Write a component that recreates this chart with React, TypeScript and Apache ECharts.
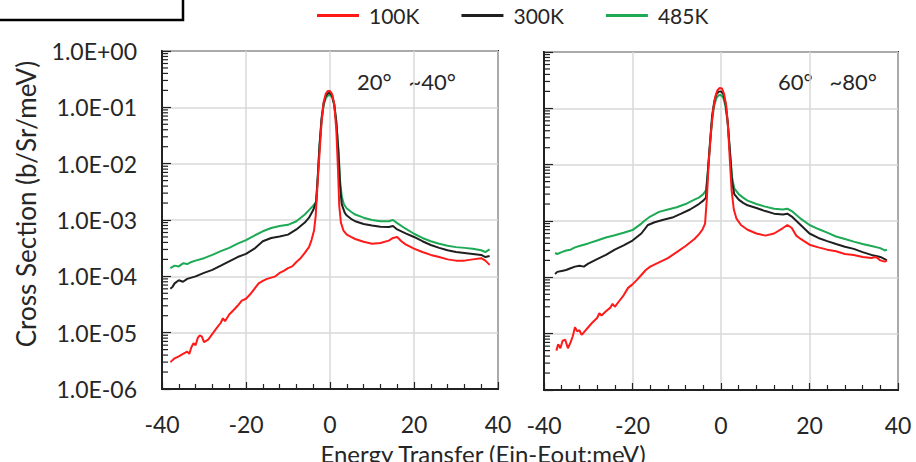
import React, { useEffect, useRef } from "react";
import * as echarts from "echarts";

// ---------- data ----------
const seriesNames = ["100K", "300K", "485K"];
const seriesColors = ["#ff1a1a", "#1f1f1f", "#1daa55"];
const panelLabels = ["20°   ~40°", "60°   ~80°"];
const xMin = -40;
const xMax = 40;
const yMin = 1e-6;
const yMax = 1;
const yMinorTickValues = [
  2e-6, 3e-6, 4e-6, 5e-6, 6e-6, 7e-6, 8e-6, 9e-6,
  2e-5, 3e-5, 4e-5, 5e-5, 6e-5, 7e-5, 8e-5, 9e-5,
  2e-4, 3e-4, 4e-4, 5e-4, 6e-4, 7e-4, 8e-4, 9e-4,
  2e-3, 3e-3, 4e-3, 5e-3, 6e-3, 7e-3, 8e-3, 9e-3,
  2e-2, 3e-2, 4e-2, 5e-2, 6e-2, 7e-2, 8e-2, 9e-2,
  0.2, 0.3, 0.4, 0.5, 0.6, 0.7, 0.8, 0.9,
];

// Panel A (20°~40°)
const a100: [number, number][] = [
  [-38, 3.0e-6], [-37, 3.5e-6], [-36, 3.8e-6], [-35, 4.2e-6], [-34, 4.6e-6], [-33.5, 4.2e-6],
  [-33, 5.5e-6], [-32.5, 6.5e-6], [-32, 6.0e-6], [-31.5, 8e-6], [-31, 9e-6], [-30.5, 8.5e-6],
  [-30, 6.8e-6], [-29, 7.5e-6], [-28, 9.5e-6], [-27, 1.2e-5], [-26, 1.5e-5], [-25.5, 1.8e-5],
  [-25, 1.6e-5], [-24, 2.1e-5], [-23, 2.5e-5], [-22, 3e-5], [-21, 3.7e-5], [-20, 4.0e-5],
  [-19, 4.8e-5], [-18, 6e-5], [-17, 7.5e-5], [-16, 8.3e-5], [-15, 9e-5], [-14, 9.5e-5],
  [-13, 1.0e-4], [-12, 1.15e-4], [-11, 1.25e-4], [-10, 1.4e-4], [-9, 1.5e-4], [-8, 1.8e-4],
  [-7, 2.1e-4], [-6, 2.6e-4], [-5, 3.3e-4], [-4.4, 4.4e-4], [-3.8, 6.5e-4], [-3.4, 1.2e-3],
  [-3, 4e-3], [-2.5, 1.5e-2], [-2, 5.5e-2], [-1.5, 1.25e-1], [-1, 1.75e-1], [-0.5, 1.95e-1],
  [0, 1.95e-1], [0.5, 1.72e-1], [1, 1.15e-1], [1.5, 4e-2], [1.9, 8e-3], [2.2, 1.8e-3],
  [2.6, 9e-4], [3.2, 6.5e-4], [4, 5.5e-4], [5, 5e-4], [6, 4.6e-4], [8, 4.1e-4], [10, 3.8e-4],
  [12, 3.9e-4], [14, 4.3e-4], [15, 4.8e-4], [16, 5e-4], [17, 4.2e-4], [18, 3.7e-4], [20, 3.1e-4],
  [22, 2.7e-4], [24, 2.4e-4], [26, 2.2e-4], [28, 2.0e-4], [30, 1.9e-4], [32, 1.9e-4],
  [34, 2.0e-4], [36, 2.1e-4], [37, 1.9e-4], [38, 1.6e-4],
];
const a300: [number, number][] = [
  [-38, 6e-5], [-37.5, 6.5e-5], [-37, 7.5e-5], [-36, 8.5e-5], [-35, 8e-5], [-34, 9e-5],
  [-33, 9.5e-5], [-32, 1.0e-4], [-30, 1.15e-4], [-28, 1.3e-4], [-26, 1.55e-4], [-24, 1.85e-4],
  [-22, 2.2e-4], [-20, 2.5e-4], [-18, 3.1e-4], [-16, 4.2e-4], [-14, 4.8e-4], [-12, 5.1e-4],
  [-10, 5.5e-4], [-8, 6.8e-4], [-6, 9e-4], [-5, 1.1e-3], [-4, 1.5e-3], [-3.3, 2.1e-3],
  [-2.9, 6e-3], [-2.5, 2.1e-2], [-2, 6.5e-2], [-1.5, 1.2e-1], [-1, 1.6e-1], [-0.5, 1.78e-1],
  [0, 1.8e-1], [0.5, 1.62e-1], [1, 1.15e-1], [1.5, 5.5e-2], [2, 1.6e-2], [2.4, 4e-3],
  [2.8, 1.9e-3], [3.5, 1.35e-3], [4, 1.2e-3], [5, 1.05e-3], [6, 9.5e-4], [8, 8.5e-4],
  [10, 8e-4], [12, 7.6e-4], [14, 7.5e-4], [15, 7.8e-4], [16, 6.8e-4], [18, 5.8e-4], [20, 5e-4],
  [22, 4.2e-4], [24, 3.6e-4], [26, 3.2e-4], [28, 2.9e-4], [30, 2.7e-4], [32, 2.6e-4],
  [34, 2.5e-4], [36, 2.4e-4], [37, 2.2e-4], [38, 2.3e-4],
];
const a485: [number, number][] = [
  [-38, 1.4e-4], [-37, 1.55e-4], [-36, 1.5e-4], [-35, 1.7e-4], [-34, 1.65e-4], [-33, 1.8e-4],
  [-32, 1.9e-4], [-30, 2.1e-4], [-28, 2.4e-4], [-26, 2.8e-4], [-24, 3.2e-4], [-22, 3.8e-4],
  [-20, 4.4e-4], [-18, 5.3e-4], [-16, 6.3e-4], [-14, 7.2e-4], [-12, 7.8e-4], [-10, 8.2e-4],
  [-8, 9.5e-4], [-6, 1.25e-3], [-5, 1.5e-3], [-4, 1.8e-3], [-3.3, 2.1e-3], [-2.9, 6e-3],
  [-2.5, 2e-2], [-2, 6e-2], [-1.5, 1.1e-1], [-1, 1.45e-1], [-0.5, 1.62e-1], [0, 1.65e-1],
  [0.5, 1.5e-1], [1, 1.1e-1], [1.5, 5.5e-2], [2, 1.8e-2], [2.4, 5e-3], [2.8, 2.6e-3],
  [3.3, 1.9e-3], [4, 1.6e-3], [5, 1.4e-3], [6, 1.25e-3], [8, 1.1e-3], [10, 1.0e-3],
  [12, 9.5e-4], [14, 9.5e-4], [15, 1.0e-3], [16, 8.8e-4], [18, 7e-4], [20, 5.7e-4],
  [22, 4.8e-4], [24, 4.2e-4], [26, 3.8e-4], [28, 3.5e-4], [30, 3.3e-4], [32, 3.2e-4],
  [34, 3.1e-4], [36, 2.9e-4], [37, 2.7e-4], [38, 3.0e-4],
];

// Panel B (60°~80°)
const b100: [number, number][] = [
  [-37.2, 5.0e-6], [-36.8, 6.5e-6], [-36.3, 5.5e-6], [-35.8, 7.5e-6], [-35.2, 7.8e-6],
  [-34.6, 5.5e-6], [-34, 7e-6], [-33.5, 9e-6], [-33, 1.3e-5], [-32.5, 1.1e-5], [-32, 1.15e-5],
  [-31.5, 9.5e-6], [-31, 1.05e-5], [-30, 1.3e-5], [-29, 1.6e-5], [-28, 1.9e-5], [-27.5, 2.3e-5],
  [-27, 2.1e-5], [-26, 2.5e-5], [-25, 2.9e-5], [-24.5, 3.4e-5], [-24, 3.0e-5], [-23, 3.8e-5],
  [-22, 4.8e-5], [-21, 6.5e-5], [-20, 7.5e-5], [-19, 9e-5], [-18, 1.1e-4], [-17, 1.35e-4],
  [-16, 1.55e-4], [-14, 1.85e-4], [-12, 2.2e-4], [-10, 2.8e-4], [-8, 3.6e-4], [-6, 4.8e-4],
  [-5, 5.8e-4], [-4.2, 7e-4], [-3.6, 9e-4], [-3.2, 2.5e-3], [-2.8, 1e-2], [-2.3, 3.5e-2],
  [-1.8, 9e-2], [-1.3, 1.6e-1], [-0.8, 2.1e-1], [-0.3, 2.3e-1], [0.2, 2.25e-1], [0.7, 1.8e-1],
  [1.2, 1.1e-1], [1.6, 4.5e-2], [2, 1.2e-2], [2.4, 3.5e-3], [2.9, 1.6e-3], [3.5, 1.1e-3],
  [4.5, 8.5e-4], [6, 7e-4], [8, 6e-4], [10, 5.5e-4], [12, 6e-4], [14, 7.5e-4], [15, 8.5e-4],
  [16, 7.5e-4], [17, 5.5e-4], [18, 4.8e-4], [20, 3.8e-4], [22, 3.4e-4], [24, 3.1e-4],
  [26, 2.9e-4], [28, 2.6e-4], [30, 2.5e-4], [32, 2.3e-4], [34, 2.2e-4], [35, 2.3e-4],
  [36, 2.0e-4], [37, 1.9e-4], [37.5, 2.0e-4],
];
const b300: [number, number][] = [
  [-37.5, 1.15e-4], [-37, 1.25e-4], [-36, 1.3e-4], [-35, 1.35e-4], [-34, 1.45e-4], [-33, 1.55e-4],
  [-32, 1.6e-4], [-31, 1.55e-4], [-30, 1.75e-4], [-28, 2.1e-4], [-26, 2.5e-4], [-24, 3.1e-4],
  [-22, 3.7e-4], [-20, 4.5e-4], [-18, 6e-4], [-16.5, 8.5e-4], [-15, 9.5e-4], [-13, 1.05e-3],
  [-11, 1.15e-3], [-9, 1.35e-3], [-7, 1.6e-3], [-5, 2.0e-3], [-4, 2.3e-3], [-3.4, 2.6e-3],
  [-3, 7e-3], [-2.5, 2.4e-2], [-2, 7.5e-2], [-1.5, 1.35e-1], [-1, 1.8e-1], [-0.5, 1.98e-1],
  [0, 2.0e-1], [0.5, 1.8e-1], [1, 1.25e-1], [1.5, 6e-2], [2, 1.8e-2], [2.5, 5e-3], [3, 3.0e-3],
  [4, 2.4e-3], [5, 2.1e-3], [6, 1.9e-3], [8, 1.7e-3], [10, 1.5e-3], [12, 1.35e-3], [14, 1.3e-3],
  [15, 1.35e-3], [16, 1.2e-3], [18, 8.5e-4], [20, 6e-4], [22, 5e-4], [24, 4.4e-4], [26, 3.9e-4],
  [28, 3.5e-4], [30, 3.2e-4], [32, 2.8e-4], [34, 2.5e-4], [36, 2.3e-4], [37, 2.1e-4], [37.5, 2.0e-4],
];
const b485: [number, number][] = [
  [-37.5, 2.7e-4], [-37, 2.6e-4], [-36, 2.8e-4], [-35, 3.0e-4], [-34, 3.1e-4], [-33, 3.4e-4],
  [-32, 3.6e-4], [-30, 4.0e-4], [-28, 4.5e-4], [-26, 5.1e-4], [-24, 5.6e-4], [-22, 6.2e-4],
  [-20, 6.9e-4], [-18, 9e-4], [-17, 1.05e-3], [-16, 1.2e-3], [-14, 1.45e-3], [-12, 1.6e-3],
  [-10, 1.75e-3], [-8, 2.0e-3], [-6, 2.4e-3], [-5, 2.6e-3], [-4, 3.0e-3], [-3.4, 3.5e-3],
  [-3, 7e-3], [-2.5, 2.2e-2], [-2, 6.5e-2], [-1.5, 1.15e-1], [-1, 1.55e-1], [-0.5, 1.7e-1],
  [0, 1.72e-1], [0.5, 1.55e-1], [1, 1.1e-1], [1.5, 5.5e-2], [2, 1.8e-2], [2.5, 6e-3], [3, 3.8e-3],
  [4, 3.0e-3], [5, 2.6e-3], [6, 2.3e-3], [8, 2.0e-3], [10, 1.8e-3], [12, 1.65e-3], [14, 1.6e-3],
  [15, 1.65e-3], [16, 1.5e-3], [18, 1.1e-3], [20, 8.5e-4], [22, 7.2e-4], [24, 6.2e-4],
  [26, 5.3e-4], [28, 4.8e-4], [30, 4.3e-4], [32, 3.9e-4], [34, 3.6e-4], [36, 3.3e-4],
  [37, 3.0e-4], [37.5, 3.1e-4],
];

const panelData = [
  [a100, a300, a485],
  [b100, b300, b485],
];

const FONT = "Lato, 'Open Sans', sans-serif";
const TEXT = "#262626";

function fmtLog(v: number): string {
  const e = Math.round(Math.log10(v));
  return `1.0E${e < 0 ? "-" : "+"}${String(Math.abs(e)).padStart(2, "0")}`;
}

export default function App() {
  const ref = useRef<HTMLDivElement>(null);
  useEffect(() => {
    document.body.style.margin = "0";
    const chart = echarts.init(ref.current!, null, { renderer: "svg" });

    const grids = [
      { left: 162, top: 51, width: 336, height: 338 },
      { left: 544, top: 52, width: 354, height: 338 },
    ];

    const xAxes = grids.map((_, i) => ({
      type: "value",
      gridIndex: i,
      min: xMin,
      max: xMax,
      interval: 20,
      axisLine: { show: true, onZero: false, lineStyle: { color: "#222", width: 2 } },
      axisTick: { show: true, inside: true, length: 7, lineStyle: { color: "#222", width: 1.2 } },
      minorTick: { show: true, splitNumber: 5, length: 5, lineStyle: { color: "#222", width: 1.2 } },
      splitLine: { show: true, lineStyle: { color: "#d9d9d9", width: 1.5 } },
      axisLabel: { show: true, margin: 22, fontSize: 23, lineHeight: 26, color: TEXT, fontFamily: FONT },
    }));

    const yAxes = grids.map((_, i) => ({
      type: "log",
      logBase: 10,
      gridIndex: i,
      min: yMin,
      max: yMax,
      splitNumber: 6,
      axisLine: { show: true, onZero: false, lineStyle: { color: "#222", width: 2 } },
      axisTick: { show: true, inside: true, length: 9, lineStyle: { color: "#222", width: 1.2 } },
      splitLine: { show: true, lineStyle: { color: "#d9d9d9", width: 1.5 } },
      axisLabel: {
        show: i === 0,
        margin: 25,
        fontSize: 23,
        color: TEXT,
        fontFamily: FONT,
        formatter: fmtLog,
      },
    }));

    const series: any[] = [];
    panelData.forEach((panel, pi) => {
      panel.forEach((pts, si) => {
        series.push({
          type: "line",
          name: seriesNames[si],
          xAxisIndex: pi,
          yAxisIndex: pi,
          data: pts,
          showSymbol: false,
          symbol: "none",
          smooth: false,
          lineStyle: { color: seriesColors[si], width: 2 },
          itemStyle: { color: seriesColors[si] },
          z: 3 + (2 - si),
        });
      });
      series.push({
        type: "custom",
        name: "minorTicks" + pi,
        xAxisIndex: pi,
        yAxisIndex: pi,
        data: yMinorTickValues.map((v) => [xMin, v]),
        silent: true,
        z: 10,
        renderItem: (params: any, api: any) => {
          const p = api.coord([api.value(0), api.value(1)]);
          return {
            type: "line",
            shape: { x1: p[0], y1: p[1], x2: p[0] + 6, y2: p[1] },
            style: { stroke: "#222", lineWidth: 1.2 },
          };
        },
      });
    });

    chart.setOption({
      animation: false,
      backgroundColor: "#fff",
      textStyle: { fontFamily: FONT },
      legend: {
        data: seriesNames,
        left: 317,
        top: 5,
        padding: 0,
        icon: "rect",
        itemWidth: 42,
        itemHeight: 3,
        itemGap: 42,
        textStyle: { fontSize: 21, color: TEXT, fontFamily: FONT, padding: [0, 0, 0, 5] },
      },
      grid: grids.map((g) => ({
        ...g,
        show: true,
        borderColor: "#222",
        borderWidth: 2,
        backgroundColor: "transparent",
      })),
      xAxis: xAxes,
      yAxis: yAxes,
      series,
      graphic: [
        {
          type: "rect",
          shape: { x: -3, y: -10, width: 186, height: 30 },
          style: { fill: "none", stroke: "#000", lineWidth: 2.5 },
        },
        {
          type: "text",
          x: 26,
          y: 204,
          rotation: Math.PI / 2,
          style: {
            text: "Cross Section (b/Sr/meV)",
            fontSize: 26,
            fontFamily: FONT,
            fill: TEXT,
            align: "center",
            verticalAlign: "middle",
          },
        },
        {
          type: "text",
          x: 483,
          y: 440,
          style: {
            text: "Energy Transfer (Ein-Eout:meV)",
            fontSize: 24,
            lineHeight: 26,
            fontFamily: FONT,
            fill: TEXT,
            align: "center",
            verticalAlign: "top",
          },
        },
        {
          type: "text",
          x: 357,
          y: 81,
          style: {
            text: panelLabels[0],
            fontSize: 22,
            fontFamily: FONT,
            fill: TEXT,
            align: "left",
            verticalAlign: "middle",
          },
        },
        {
          type: "text",
          x: 778,
          y: 81,
          style: {
            text: panelLabels[1],
            fontSize: 22,
            fontFamily: FONT,
            fill: TEXT,
            align: "left",
            verticalAlign: "middle",
          },
        },
      ],
    });

    return () => chart.dispose();
  }, []);
  return <div ref={ref} style={{ width: 916, height: 462 }} />;
}
